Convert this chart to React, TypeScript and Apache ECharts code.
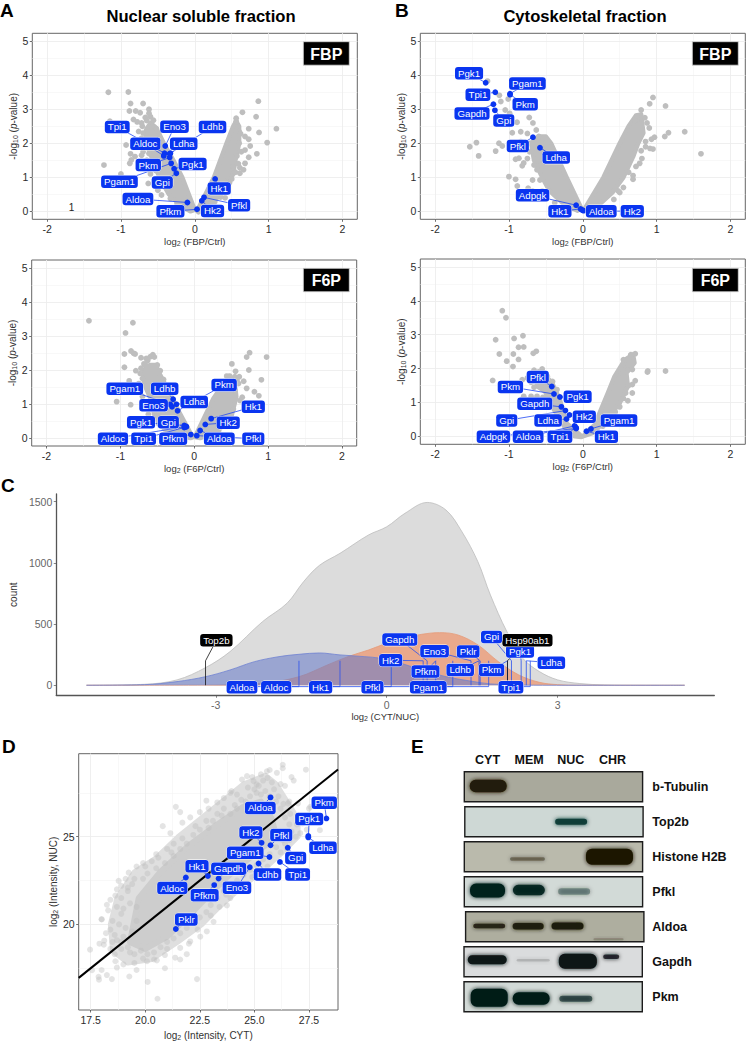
import React, { useEffect, useRef } from "react";
import * as echarts from "echarts";

type P = [number, number];
type Gene = [string, number, number, number, number];

const FONT = '"Liberation Sans"';
const BLUE = "#0a35f0";

// ---- Panel A, FBP ----
const massA1Left: P[] = [[0,0.04],[-0.17,1],[-0.29,1.5],[-0.42,2],[-0.52,2.45],[-0.6,2.6],[-0.66,2.4],[-0.66,2],[-0.55,1.4],[-0.48,1],[-0.35,0.5],[-0.18,0.15],[-0.06,0]];
const massA1Right: P[] = [[0.03,0.01],[0.26,1],[0.43,2],[0.52,2.5],[0.56,2.65],[0.6,2.5],[0.6,2],[0.55,1.5],[0.52,1.1],[0.4,0.6],[0.21,0.2],[0.05,-0.03]];
const outliersA1: P[] = [[-1.17,3.5],[-0.9,3.51],[-0.87,3.17],[-0.7,3.17],[-0.885,2.95],[-0.8,2.95],[-0.74,2.9],[-0.62,3.0],[-0.62,2.88],[-0.6,2.78],[-0.83,2.7],[-0.78,2.63],[-0.67,2.76],[-0.65,2.67],[-1.15,2.65],[-0.93,1.95],[-0.83,1.94],[-0.87,1.69],[-0.81,1.61],[-0.86,1.51],[-0.88,1.41],[-1.23,1.36],[-1.0,1.1],[-0.63,0.82],[-0.45,0.48],[-0.74,2.0],[-0.7,1.75],[-0.72,1.65],[-0.65,1.5],[-0.6,1.1],[-0.55,0.9],[-0.5,0.62],[-0.76,2.35],[-0.71,2.5],[-0.58,2.5],[-0.52,2.42],[-0.72,2.6],[-0.7,2.3],[-0.72,2.15],[-0.68,1.9],[-0.62,1.7],[-0.6,1.35],[-0.53,1.2],[-0.42,0.75],[-0.33,0.38],[-0.24,0.22],[-0.56,2.68],
[0.86,3.24],[0.645,2.91],[0.83,2.78],[0.73,2.43],[1.105,2.43],[0.87,2.32],[0.98,2.02],[0.68,2.2],[0.73,2.12],[0.75,1.92],[0.68,1.8],[0.56,1.72],[0.57,1.63],[0.84,1.69],[0.73,1.59],[0.68,1.41],[0.52,1.32],[0.61,1.28],[0.55,1.15],[0.61,1.12],[0.66,1.22],[0.39,0.92],[0.41,0.4],[0.56,2.64],[0.56,2.74],[0.6,2.35],[0.62,2.28],[0.6,2.0],[0.5,0.95],[0.47,0.85],[0.44,0.72],[0.35,0.42],[0.27,0.28],[0.63,1.75],[0.59,1.4]];
const genesA1: Gene[] = [["Eno3",-0.40,1.92,-0.275,2.49],["Ldhb",-0.33,1.71,0.24,2.48],["Tpi1",-0.41,1.71,-1.05,2.48],["Aldoc",-0.42,1.63,-0.67,1.99],["Ldha",-0.34,1.69,-0.15,1.99],["Pkm",-0.34,1.58,-0.63,1.36],["Pgk1",-0.28,1.25,-0.03,1.39],["Pgam1",-0.32,1.41,-1.02,0.87],["Gpi",-0.25,1.12,-0.44,0.85],["Aldoa",-0.10,0.26,-0.77,0.36],["Pfkm",0.03,0.06,-0.33,0],["Hk2",0.095,0.31,0.24,0.01],["Pfkl",0.125,0.41,0.6,0.18],["Hk1",0.275,0.95,0.33,0.67]];
const strayLabelA1: P[] = [[-1.67,0.11]];

// ---- Panel A, F6P ----
const massA2Left: P[] = [[-0.02,0.02],[-0.2,0.75],[-0.35,1.4],[-0.46,1.85],[-0.52,2.15],[-0.6,2.15],[-0.68,2],[-0.68,1.6],[-0.6,1.2],[-0.53,0.6],[-0.4,0.25],[-0.2,0.08],[-0.05,0]];
const massA2Right: P[] = [[0.01,0.03],[0.26,1.16],[0.4,1.6],[0.55,1.6],[0.57,1.21],[0.49,0.52],[0.26,0.13],[0.08,0]];
const outliersA2: P[] = [[-1.425,3.45],[-0.83,3.39],[-0.93,3.09],[-0.945,2.47],[-0.855,2.56],[-0.82,2.49],[-0.8,2.47],[-0.945,2.08],[-0.79,1.98],[-1.05,1.07],[-0.86,0.98],[-0.72,2.36],[-0.65,2.34],[-0.56,2.45],[-0.54,2.38],[-0.68,2.18],[-0.88,1.68],[-0.78,1.42],[-0.7,1.22],[-0.75,1.6],[-0.6,0.9],[-0.62,0.7],[-0.45,0.55],[-0.595,2.39],[-0.66,2.15],[-0.5,2.15],[-0.46,1.98],[-0.73,1.9],[-0.505,1.75],[-0.415,1.72],[-0.72,2.05],[-0.63,2.28],[-0.7,1.75],[-0.58,1.05],[-0.48,0.42],[-0.34,0.22],
[0.75,2.51],[0.71,2.38],[0.98,2.38],[0.51,2.18],[0.56,1.96],[0.74,2.0],[0.61,1.8],[0.67,1.67],[0.71,1.46],[0.91,1.71],[0.815,1.36],[0.875,1.24],[0.44,1.82],[0.55,1.8],[0.65,1.2],[0.62,1.1],[0.55,1.42],[0.48,1.82],[0.6,1.6],[0.52,1.72],[0.58,1.68],[0.53,0.85],[0.44,0.42],[0.33,0.22]];
const genesA2: Gene[] = [["Pgam1",-0.325,0.99,-0.94,1.45],["Ldhb",-0.285,1.14,-0.40,1.45],["Eno3",-0.30,0.92,-0.55,0.96],["Ldha",-0.24,0.99,0,1.06],["Pkm",-0.225,0.80,0.405,1.56],["Pgk1",-0.135,0.37,-0.72,0.46],["Gpi",-0.105,0.33,-0.35,0.46],["Aldoc",-0.11,0.34,-1.10,-0.02],["Tpi1",-0.135,0.31,-0.685,-0.02],["Pfkm",-0.045,0.10,-0.285,-0.02],["Aldoa",0.08,0.22,0.34,-0.02],["Pfkl",0.035,0.07,0.80,-0.02],["Hk2",0.15,0.40,0.46,0.45],["Hk1",0.23,0.57,0.80,0.92]];

// ---- Panel B, FBP ----
const massB1Left: P[] = [[-0.02,0.09],[-0.22,1],[-0.43,2],[-0.5,2.2],[-0.6,2.2],[-0.7,2],[-0.66,1.5],[-0.55,1],[-0.45,0.6],[-0.25,0.2],[-0.07,0.02]];
const massB1Right: P[] = [[0.03,0.09],[0.28,1],[0.5,2],[0.62,2.5],[0.72,2.82],[0.79,2.85],[0.82,2.3],[0.75,2],[0.68,1.6],[0.55,1],[0.4,0.55],[0.2,0.15],[0.05,0]];
const outliersB1: P[] = [[-1.29,3.83],[-1.13,3.41],[-1.11,3.23],[-1.01,3.3],[-1.05,2.98],[-0.99,2.88],[-0.99,2.69],[-0.89,2.62],[-0.725,2.76],[-0.675,2.6],[-0.63,2.39],[-0.84,2.34],[-0.955,2.31],[-0.75,2.29],[-1.53,1.9],[-1.44,2.02],[-1.41,1.63],[-1.135,2.0],[-1.09,1.92],[-1.18,1.77],[-0.91,1.53],[-0.865,1.56],[-0.82,1.34],[-1.0,1.02],[-0.91,0.94],[-0.887,0.745],[-0.74,0.68],[-0.8,1.42],[-0.66,1.36],[-0.68,0.92],[-0.58,0.92],[-0.63,1.7],[-0.775,1.9],[-0.71,2.0],[-0.595,2.2],[-0.53,2.15],[-0.84,2.05],[-0.68,0.6],[-0.55,0.6],[-0.72,1.75],[-0.75,1.55],[-0.62,1.22],[-0.5,0.42],[-0.38,0.25],
[0.95,3.35],[0.905,3.16],[1.12,3.1],[0.79,2.98],[0.73,2.78],[0.71,2.67],[1.38,2.34],[1.16,2.31],[1.11,2.2],[0.97,2.18],[0.93,2.12],[1.6,1.69],[0.68,0.94],[0.77,1.41],[0.91,1.85],[0.95,1.83],[0.85,1.9],[0.8,1.55],[0.72,1.32],[0.68,1.05],[0.55,0.7],[0.5,0.55],[0.48,0.6],[0.87,2.6],[0.84,2.75],[0.9,2.45],[0.85,2.05],[0.79,1.78],[0.62,1.15],[0.42,0.35]];
const genesB1: Gene[] = [["Pgk1",-1.315,3.78,-1.54,4.06],["Pgam1",-0.985,3.46,-0.75,3.76],["Tpi1",-1.185,3.5,-1.42,3.43],["Pkm",-0.985,3.43,-0.78,3.15],["Gapdh",-1.21,3.15,-1.5,2.88],["Gpi",-1.19,2.97,-1.07,2.67],["Pfkl",-0.675,2.18,-0.88,1.92],["Ldha",-0.58,1.87,-0.36,1.58],["Adpgk",-0.09,0.18,-0.68,0.47],["Hk1",-0.03,0.07,-0.31,0],["Aldoa",-0.01,0.04,0.25,0],["Hk2",0.01,0.02,0.67,0]];

// ---- Panel B, F6P ----
const massB2Left: P[] = [[-0.04,0.05],[-0.22,0.39],[-0.31,1.08],[-0.42,1.6],[-0.52,1.8],[-0.62,1.7],[-0.62,1.48],[-0.51,1.32],[-0.42,0.89],[-0.24,0.25],[-0.11,0],[-0.02,-0.02]];
const massB2Right: P[] = [[0,0],[0.16,0.34],[0.34,1.28],[0.43,1.77],[0.57,2.26],[0.68,2.42],[0.7,2.17],[0.59,1.87],[0.61,1.48],[0.5,0.98],[0.32,0.49],[0.14,0.1]];
const outliersB2: P[] = [[-1.09,3.71],[-1.04,3.5],[-0.81,2.97],[-1.18,2.85],[-0.93,2.89],[-0.87,2.63],[-0.8,2.64],[-1.13,2.43],[-0.94,2.43],[-0.87,2.27],[-1.03,2.22],[-0.945,2.06],[-0.67,2.45],[-0.63,2.51],[-1.22,1.65],[-0.55,1.99],[-0.66,1.95],[-0.82,1.67],[-0.75,1.72],[-0.48,1.77],[-0.41,1.62],[-0.35,1.38],[-0.57,1.48],[-0.8,1.18],[-0.7,1.18],[-0.6,1.9],[-0.7,1.6],[-0.66,1.45],[-0.62,1.18],[-0.54,1.15],
[1.12,1.93],[0.88,1.93],[0.875,1.9],[0.71,2.44],[0.65,2.41],[0.55,2.26],[0.67,1.97],[0.71,1.64],[0.67,1.53],[0.62,1.5],[0.67,1.28],[0.61,1.05],[0.5,0.87],[0.57,2.1],[0.62,2.12],[0.54,1.85],[0.58,1.28],[0.55,1.12],[0.44,0.72],[0.27,0.3]];
const genesB2: Gene[] = [["Pfkl",-0.42,1.47,-0.61,1.75],["Pkm",-0.39,1.25,-0.98,1.46],["Pgk1",-0.31,1.16,-0.07,1.17],["Gapdh",-0.29,0.87,-0.65,0.96],["Gpi",-0.235,0.76,-1.03,0.47],["Ldha",-0.22,0.51,-0.47,0.47],["Hk2",-0.18,0.63,0.02,0.58],["Pgam1",0.11,0.22,0.49,0.47],["Hk1",0.05,0.15,0.32,-0.01],["Tpi1",-0.09,0.25,-0.31,-0.01],["Aldoa",-0.11,0.31,-0.74,-0.01],["Adpgk",-0.09,0.23,-1.21,-0.01]];

// ---- Panel C ----
const densityAll: P[] = [[-5.27,0],[-4.25,8],[-3.68,44],[-3.18,144],[-2.75,275],[-2.18,520],[-1.75,670],[-1.46,846],[-1.18,980],[-0.82,1078],[-0.32,1228],[0,1295],[0.32,1405],[0.71,1494],[1.04,1432],[1.32,1255],[1.6,1010],[1.82,738],[2.11,438],[2.39,220],[2.68,112],[3,44],[3.39,14],[3.82,3],[4.5,0],[5.23,0]];
const densityCyt: P[] = [[-5.27,0],[-3.18,1],[-2.18,16],[-1.54,70],[-1.04,166],[-0.68,234],[-0.32,288],[0,343],[0.32,384],[0.61,416],[0.93,430],[1.25,411],[1.6,330],[1.96,193],[2.32,84],[2.68,24],[3,5],[3.39,0],[5.23,0]];
const densityNuc: P[] = [[-5.27,0],[-4.25,5],[-3.68,30],[-3.18,70],[-2.75,125],[-2.32,193],[-1.89,234],[-1.54,253],[-1.18,264],[-0.82,248],[-0.39,234],[-0.1,220],[0.25,180],[0.61,125],[1.04,70],[1.46,35],[1.82,11],[2.25,3],[2.9,0],[5.23,0]];
const genesC: [string, number, number, number][] = [["Aldoa",-1.54,-2.54,-16],["Aldoc",-0.82,-1.94,-16],["Hk1",0.08,-1.16,-16],["Pfkl",1.16,-0.25,-16],["Pgam1",1.79,0.73,-16],["Tpi1",2.52,2.18,-16],["Gapdh",0.71,0.23,373],["Eno3",1.48,0.84,278],["Pklr",1.64,1.43,275],["Hk2",0.64,0.07,204],["Pfkm",0.86,0.68,112],["Ldhb",1.62,1.29,125],["Pkm",2.12,1.84,125],["Pgk1",2.36,2.34,275],["Ldha",2.45,2.89,185]];
const blackGenesC: [string, number, number, number][] = [["Top2b",-3.18,-2.99,367],["Hsp90ab1",2.12,2.47,367]];
const topGenesC: [string, number, number, number][] = [["Gpi",2.19,1.84,395]];

// ---- Panel D ----
const massOuterD: P[] = [[18.5,18.5],[18.4,20],[18.7,21.5],[19.5,23],[20.5,23.8],[21.5,25],[22.5,26],[23.5,27],[24.5,28],[25.5,28.5],[26,28],[26.5,27],[27,26],[27,25],[26.2,24],[25.3,23],[24.3,22],[23.4,21],[22.6,20],[21.5,19],[20.3,18],[19.2,17.8]];
const massInnerD: P[] = [[19.3,19],[19.7,21.5],[20.7,23],[22,24.5],[23.3,25.7],[24.5,26.7],[25.3,27],[25.8,26],[26,25],[25,24],[24,23],[23,21.8],[22,20.5],[21,19.3],[20,18.6]];
const pointsD: P[] = [[17.47,18.56],[17.86,17.01],[17.88,16.85],[18.24,17.11],[18.47,16.88],[19.27,17.03],[20.11,16.72],[20.56,15.76],[22.37,16.88],[17.56,17.39],[18.2,19.5],[18.5,20.2],[18.0,20.3],[18.9,21.5],[18.7,22.0],[19.1,22.6],[19.2,22.1],[18.7,21.0],[18.4,21.4],[18.3,20.8],[19.6,23.3],[19.9,23.5],[20.3,23.6],[20.6,23.8],[21.0,24.3],[21.3,24.6],[21.2,24.1],[21.7,24.9],[20.8,25.6],[21.15,25.2],[21.7,25.8],[22.06,26.1],[21.4,26.7],[21.6,26.4],[22.8,27.05],[23.3,26.95],[23.9,27.5],[24.66,28.45],[25.1,27.98],[25.57,28.73],[25.7,28.8],[26.3,29.1],[26.3,28.9],[27.36,28.82],[26.7,28.4],[26.8,28.2],[26.4,27.9],[26.03,28.64],[25.4,28.2],[24.96,28.17],[24.43,28.26],[23.95,27.6],[24.9,28.4],[25.3,28.55],[25.6,28.35],[25.0,27.7],[25.3,27.4],[25.9,27.7],[26.1,27.3],[26.6,27.0],[27.0,26.9],[27.5,26.6],[28.0,25.37],[27.8,26.1],[27.1,25.2],[26.9,25.0],[27.2,25.75],[26.64,26.3],[26.33,26.87],[27.56,26.7],[26.55,26.9],[27.0,26.2],[26.95,25.7],[27.4,25.4],[26.6,24.8],[26.4,24.6],[24.05,21.83],[23.74,21.08],[23.13,20.15],[22.82,19.6],[22.52,19.3],[22.06,19.03],[21.6,18.66],[21.6,18.0],[21.37,18.1],[20.53,17.95],[20.08,17.9],[19.5,17.8],[19.0,17.72],[18.63,17.9],[18.7,17.54],[18.1,18.84],[18.12,19.07],[18.4,19.7],[18.0,20.28],[18.24,21.12],[18.63,21.64],[18.78,22.48],[18.9,22.2],[19.24,22.95],[22.0,18.9],[22.4,19.7],[23.0,20.5],[23.4,21.0],[23.9,21.5],[24.2,22.1],[24.7,22.3],[25.2,22.9],[25.6,23.3],[26.2,24.1],[26.5,24.3],[24.9,22.7],[23.7,21.7],[21.0,18.6],[20.4,18.0],[20.9,18.25],[19.9,18.05],[19.3,18.4],[18.9,18.6],[18.6,18.3],[18.4,18.6],[18.7,19.1],[18.5,19.0],[18.8,20.0],[19.0,20.9],[19.2,21.9],[19.5,22.6],[20.0,23.3],[20.5,24.0],[22.3,25.6],[22.8,25.9],[23.3,26.3],[23.6,26.6],[24.1,26.8],[24.4,27.1],[22.5,26.4],[22.9,26.6],[23.6,27.2],[24.2,27.4],[24.7,27.8],[25.8,28.1],[26.2,28.0],[25.2,27.9],[17.9,18.9],[18.0,17.4],[19.6,17.4],[20.9,17.5],[21.9,18.3],
[18.6,19.4],[18.9,19.0],[19.1,19.8],[18.9,20.6],[19.3,21.2],[19.6,21.0],[19.4,22.3],[19.9,22.6],[20.1,22.9],[20.5,23.2],[20.9,23.5],[21.3,23.9],[21.6,24.3],[21.9,24.6],[22.2,25.1],[22.5,25.4],[22.9,25.5],[23.1,25.9],[23.5,26.2],[23.9,26.3],[24.2,26.6],[24.6,27.0],[24.8,27.3],[25.1,27.5],[25.5,27.6],[25.7,27.3],[26.0,27.0],[26.2,26.6],[26.4,26.1],[26.6,25.7],[26.7,25.3],[26.5,25.0],[26.3,24.8],[26.0,24.4],[25.7,24.0],[25.4,23.7],[25.1,23.4],[24.8,23.1],[24.5,22.8],[24.2,22.5],[23.9,22.2],[23.6,21.9],[23.3,21.5],[23.0,21.1],[22.8,20.7],[22.5,20.4],[22.2,20.1],[21.9,19.8],[21.6,19.5],[21.3,19.2],[21.0,19.0],[20.7,18.7],[20.4,18.4],[20.1,18.3],[19.8,18.5],[19.5,18.3],[19.2,18.7],[19.0,19.3],[19.4,19.6],[19.6,20.2]];
const genesD: Gene[] = [["Aldoa",25.74,27.24,25.27,26.64],["Pkm",28.3,26.04,28.2,26.94],["Pgk1",27.47,25.04,27.51,26.01],["Ldha",27.47,24.96,28.14,24.37],["Hk2",25.33,24.65,24.84,25.24],["Pfkl",25.74,24.51,26.23,25.09],["Gpi",26.53,24.37,26.89,23.79],["Pgam1",25.69,23.84,24.58,24.09],["Tpi1",26.17,23.56,26.98,22.85],["Ldhb",25.19,23.47,25.6,22.85],["Eno3",24.79,23.26,24.2,22.09],["Hk1",22.87,22.76,22.37,23.32],["Gapdh",23.36,22.61,23.82,23.17],["Aldoc",21.86,22.67,21.24,22.07],["Pfkm",23.16,22.24,22.72,21.66],["Pklr",21.4,19.74,21.88,20.28]];
const identityLine: P[] = [[16.95,16.95],[28.83,28.83]];

// ---- Panel E ----
const laneNames = ["CYT", "MEM", "NUC", "CHR"];
const blotNames = ["b-Tubulin", "Top2b", "Histone H2B", "Pfkl", "Aldoa", "Gapdh", "Pkm"];
const bandIntensity: number[][] = [
  [1, 0, 0, 0],
  [0, 0, 0.95, 0],
  [0, 0.4, 0, 1],
  [1, 0.9, 0.35, 0],
  [0.85, 0.95, 1, 0.22],
  [0.98, 0.14, 1, 0.8],
  [1, 1, 0.6, 0],
];

// ---- Ticks ----
const ticksVolcanoX = [-2, -1, 0, 1, 2];
const minorVolcanoX = [-2, -1.5, -1, -0.5, 0, 0.5, 1, 1.5, 2];
const ticksVolcanoY = [0, 1, 2, 3, 4, 5];
const minorVolcanoY = [0, 0.5, 1, 1.5, 2, 2.5, 3, 3.5, 4, 4.5, 5];
const ticksCX = [-3, 0, 3];
const ticksCY = [0, 500, 1000, 1500];
const ticksDX = [17.5, 20, 22.5, 25, 27.5];
const minorDX = [17.5, 18.75, 20, 21.25, 22.5, 23.75, 25, 26.25, 27.5];
const ticksDY = [20, 25];
const minorDY = [17.5, 20, 22.5, 25, 27.5];

// ---- Layout, in page pixels (not data) ----
const BAND_SHAPE: Record<string, [number, number, number, number]> = {
  "0-0": [0.7, -0.8, 37, 12.5],
  "1-2": [0.3, 0, 32, 6],
  "2-1": [-1.7, 2.2, 35, 3.5],
  "2-3": [-3, 0, 47, 16],
  "3-0": [0, -1.3, 35, 14],
  "3-1": [-0.3, -1.7, 32, 10.5],
  "3-2": [3.3, -0.2, 32, 6.5],
  "4-0": [1.7, -0.8, 32, 4.5],
  "4-1": [-1, -0.5, 31, 6.5],
  "4-2": [-3.3, -0.8, 32, 7],
  "4-3": [-4, 12.5, 30, 2],
  "5-0": [-0.3, -2, 39, 9],
  "5-1": [4, -1.5, 33, 2.5],
  "5-2": [7, -0.5, 38, 15],
  "5-3": [-1.3, -5, 16, 4.5],
  "6-0": [1.7, 1, 37, 18],
  "6-1": [2, 1.7, 37, 12.5],
  "6-2": [5, 2, 33, 6],
};
const BLOT_STYLE = [
  { bg: "#a9a99c", ink: "#241a08", dx: 0 },
  { bg: "#ced8d5", ink: "#0b3b36", dx: 0.5 },
  { bg: "#babaac", ink: "#1c1406", dx: 0 },
  { bg: "#d2dad7", ink: "#05201d", dx: 0 },
  { bg: "#aeae9f", ink: "#1e1a0c", dx: 1.3 },
  { bg: "#dadcdd", ink: "#0c1213", dx: -0.3 },
  { bg: "#d2dad7", ink: "#051c19", dx: -0.3 },
];

const PANELS = {
  A1: { left: 32.3, top: 33.3, width: 325, height: 186 },
  A2: { left: 31.7, top: 260, width: 325, height: 186 },
  B1: { left: 420.3, top: 33.3, width: 325, height: 186 },
  B2: { left: 420.3, top: 259, width: 325, height: 185.3 },
  C: { left: 54.3, top: 494, width: 660, height: 201.3 },
  D: { left: 78.7, top: 753.7, width: 259.3, height: 261.3 },
  E: { left: 466.7, top: 769.3, width: 166.6, height: 245 },
};

const grids: any[] = [];
const xAxes: any[] = [];
const yAxes: any[] = [];
const series: any[] = [];

const RICH = {
  s: { fontSize: 7, padding: [4, 0, 0, 0], fontFamily: FONT, color: "#333" },
  i: { fontStyle: "italic", fontSize: 10, fontFamily: FONT, color: "#333" },
};

function axis(dim: "x" | "y", o: any) {
  const isX = dim === "x";
  const base = {
    type: "value",
    gridIndex: o.g,
    min: o.min,
    max: o.max,
    position: isX ? "bottom" : "left",
  };
  const arr = isX ? xAxes : yAxes;
  const fmt = o.fmt || ((v: number) => String(v));
  arr.push({
    ...base,
    name: o.name,
    nameLocation: "middle",
    nameGap: o.nameGap,
    nameRotate: isX ? 0 : 90,
    nameTextStyle: { fontFamily: FONT, fontSize: o.nameSize || 10, color: "#333", rich: RICH },
    axisLine: { show: !!o.line, onZero: false, lineStyle: { color: "#555", width: 1.3 } },
    axisTick: { show: true, length: 2.5, customValues: o.ticks, lineStyle: { color: o.tickColor || "#333", width: 0.7 } },
    axisLabel: {
      show: true,
      customValues: o.ticks,
      margin: o.margin ?? 4,
      fontFamily: FONT,
      fontSize: o.labelSize || 10.5,
      color: o.labelColor || "#2b2b2b",
      formatter: fmt,
    },
    splitLine: { show: !!o.grid, lineStyle: { color: "#ececec", width: 0.8 } },
    z: 1,
  });
  const main = arr.length - 1;
  if (o.minor) {
    arr.push({
      ...base,
      axisLine: { show: false, onZero: false },
      axisLabel: { show: false },
      axisTick: { show: false, customValues: o.minor },
      splitLine: { show: true, lineStyle: { color: "#f3f3f3", width: 0.6 } },
      z: 0,
    });
  }
  return main;
}

function massSeries(xi: number, yi: number, pts: P[], fill: string, lw: number) {
  return {
    type: "custom",
    coordinateSystem: "cartesian2d",
    xAxisIndex: xi,
    yAxisIndex: yi,
    silent: true,
    z: 2,
    clip: true,
    data: [pts[0]],
    renderItem: (_p: any, api: any) => ({
      type: "polygon",
      shape: { points: pts.map((d) => api.coord(d)) },
      style: { fill, stroke: fill, lineWidth: lw, lineJoin: "round" },
    }),
  };
}

function labelEl(api: any, name: string, lx: number, ly: number, bg = BLUE) {
  const c = api.coord([lx, ly]);
  return {
    type: "text",
    style: {
      text: name,
      x: c[0],
      y: c[1],
      fill: "#fff",
      font: `9.7px ${FONT}`,
      align: "center",
      verticalAlign: "middle",
      backgroundColor: bg,
      borderColor: "#ffffff",
      borderWidth: 0.5,
      borderRadius: 3,
      padding: [1.5, 3, 1, 3],
    },
  };
}

function geneSeries(xi: number, yi: number, genes: Gene[]) {
  const data = genes.map((g) => [g[1], g[2]]);
  return [
    {
      type: "custom",
      coordinateSystem: "cartesian2d",
      xAxisIndex: xi,
      yAxisIndex: yi,
      silent: true,
      z: 5,
      clip: false,
      data,
      renderItem: (p: any, api: any) => {
        const g = genes[p.dataIndex];
        const a = api.coord([g[1], g[2]]);
        const b = api.coord([g[3], g[4]]);
        return {
          type: "group",
          children: [
            { type: "line", shape: { x1: a[0], y1: a[1], x2: b[0], y2: b[1] }, style: { stroke: "#1f48f2", lineWidth: 0.8 } },
            { type: "circle", shape: { cx: a[0], cy: a[1], r: 2.9 }, style: { fill: "#0a35f0" } },
          ],
        };
      },
    },
    {
      type: "custom",
      coordinateSystem: "cartesian2d",
      xAxisIndex: xi,
      yAxisIndex: yi,
      silent: true,
      z: 6,
      clip: false,
      data,
      renderItem: (p: any, api: any) => {
        const g = genes[p.dataIndex];
        return labelEl(api, g[0], g[3], g[4]);
      },
    },
  ];
}

function volcano(panel: any, xName: string, left: P[], right: P[], outliers: P[], genes: Gene[]) {
  const g = grids.length;
  grids.push({ ...panel, show: true, borderColor: "#666", borderWidth: 1, backgroundColor: "transparent", containLabel: false });
  const xi = axis("x", { g, min: -2.2, max: 2.2, ticks: ticksVolcanoX, minor: minorVolcanoX, grid: true, name: xName, nameGap: 17, nameSize: 9.5 });
  const yi = axis("y", { g, min: -0.235, max: 5.235, ticks: ticksVolcanoY, minor: minorVolcanoY, grid: true, name: "-log{s|10} ({i|p}-value)", nameGap: 13, nameSize: 10 });
  series.push(massSeries(xi, yi, left, "#bebebe", 4.5));
  series.push(massSeries(xi, yi, right, "#bebebe", 4.5));
  series.push({
    type: "scatter",
    xAxisIndex: xi,
    yAxisIndex: yi,
    symbolSize: 5.8,
    silent: true,
    z: 3,
    itemStyle: { color: "#bebebe", opacity: 1 },
    data: outliers,
  });
  series.push(...geneSeries(xi, yi, genes));
  return { xi, yi };
}

const a1 = volcano(PANELS.A1, "log{s|2} (FBP/Ctrl)", massA1Left, massA1Right, outliersA1, genesA1);
volcano(PANELS.A2, "log{s|2} (F6P/Ctrl)", massA2Left, massA2Right, outliersA2, genesA2);
volcano(PANELS.B1, "log{s|2} (FBP/Ctrl)", massB1Left, massB1Right, outliersB1, genesB1);
volcano(PANELS.B2, "log{s|2} (F6P/Ctrl)", massB2Left, massB2Right, outliersB2, genesB2);

// stray "1" printed in the first panel
series.push({
  type: "custom",
  coordinateSystem: "cartesian2d",
  xAxisIndex: a1.xi,
  yAxisIndex: a1.yi,
  silent: true,
  z: 4,
  data: strayLabelA1,
  renderItem: (_p: any, api: any) => {
    const c = api.coord([api.value(0), api.value(1)]);
    return { type: "text", style: { text: "1", x: c[0], y: c[1], fill: "#222", font: `10px ${FONT}`, align: "center", verticalAlign: "middle" } };
  },
});

// Panel C
{
  const g = grids.length;
  grids.push({ ...PANELS.C, show: false, containLabel: false });
  const xi = axis("x", { g, min: -5.8, max: 5.75, ticks: ticksCX, line: true, name: "log{s|2} (CYT/NUC)", nameGap: 16, nameSize: 9.5, labelColor: "#666", tickColor: "#555", margin: 4 });
  const yi = axis("y", { g, min: -82, max: 1563, ticks: ticksCY, line: true, name: "count", nameGap: 23, nameSize: 10, labelColor: "#666", tickColor: "#555", margin: 4 });
  const area = (name: string, data: P[], line: string, fill: string, z: number) => ({
    type: "line",
    name,
    xAxisIndex: xi,
    yAxisIndex: yi,
    data,
    smooth: 0.35,
    showSymbol: false,
    silent: true,
    z,
    lineStyle: { color: line, width: 0.8 },
    areaStyle: { color: fill, opacity: 1, origin: 0 },
  });
  series.push(area("All", densityAll, "#bdbdbd", "#dcdcdc", 2));
  series.push(area("Cyt", densityCyt, "#e69a78", "rgba(238,150,110,0.72)", 3));
  series.push(area("Nuc", densityNuc, "#6f82d2", "rgba(100,120,200,0.55)", 4));

  const connectors = (genes: [string, number, number, number][], color: string) => ({
    type: "custom",
    coordinateSystem: "cartesian2d",
    xAxisIndex: xi,
    yAxisIndex: yi,
    silent: true,
    z: 5,
    clip: false,
    data: genes.map((d) => [d[1], 0]),
    renderItem: (p: any, api: any) => {
      const d = genes[p.dataIndex];
      const base = api.coord([d[1], 0]);
      const top = api.coord([d[1], 200]);
      const lab = api.coord([d[2], d[3]]);
      const low = d[3] < 0;
      const below = api.coord([d[1], -11]);
      const side = api.coord([d[2], -11]);
      const st = { stroke: color, lineWidth: 0.8, fill: "none" };
      return {
        type: "group",
        children: [
          { type: "line", shape: { x1: base[0], y1: base[1], x2: top[0], y2: top[1] }, style: st },
          low
            ? { type: "polyline", shape: { points: [base, below, side] }, style: st }
            : { type: "line", shape: { x1: top[0], y1: top[1], x2: lab[0], y2: lab[1] }, style: st },
        ],
      };
    },
  });
  const labels = (genes: [string, number, number, number][], bg: string, z: number) => ({
    type: "custom",
    coordinateSystem: "cartesian2d",
    xAxisIndex: xi,
    yAxisIndex: yi,
    silent: true,
    z,
    clip: false,
    data: genes.map((d) => [d[2], d[3]]),
    renderItem: (p: any, api: any) => {
      const d = genes[p.dataIndex];
      return labelEl(api, d[0], d[2], d[3], bg);
    },
  });
  series.push(connectors(genesC, "#2a52ee"));
  series.push(connectors(topGenesC, "#2a52ee"));
  series.push(connectors(blackGenesC, "#111"));
  series.push(labels(genesC, BLUE, 6));
  series.push(labels(blackGenesC, "#000", 7));
  series.push(labels(topGenesC, BLUE, 8));
}

// Panel D
{
  const g = grids.length;
  grids.push({ ...PANELS.D, show: true, borderColor: "#666", borderWidth: 1, containLabel: false });
  const xi = axis("x", { g, min: 16.95, max: 28.83, ticks: ticksDX, minor: minorDX, grid: true, name: "log{s|2} (Intensity, CYT)", nameGap: 20, nameSize: 10, fmt: (v: number) => v.toFixed(1) });
  const yi = axis("y", { g, min: 15.12, max: 29.73, ticks: ticksDY, minor: minorDY, grid: true, name: "log{s|2} (Intensity, NUC)", nameGap: 18, nameSize: 10 });
  series.push(massSeries(xi, yi, massOuterD, "#dfdfdf", 5));
  series.push(massSeries(xi, yi, massInnerD, "#cdcdcd", 6));
  series.push({
    type: "scatter",
    xAxisIndex: xi,
    yAxisIndex: yi,
    symbolSize: 6,
    silent: true,
    z: 2,
    itemStyle: { color: "#bebebe", opacity: 0.42 },
    data: pointsD,
  });
  series.push({
    type: "line",
    xAxisIndex: xi,
    yAxisIndex: yi,
    data: identityLine,
    showSymbol: false,
    silent: true,
    z: 4,
    lineStyle: { color: "#000", width: 2 },
  });
  series.push(...geneSeries(xi, yi, genesD));
}

// Panel E
{
  const g = grids.length;
  grids.push({ ...PANELS.E, show: false, containLabel: false });
  const labelStyle = { fontFamily: FONT, fontWeight: "bold", fontSize: 12.5, color: "#111" };
  xAxes.push({ type: "category", gridIndex: g, data: laneNames, position: "top", axisLine: { show: false }, axisTick: { show: false }, splitLine: { show: false }, axisLabel: { ...labelStyle, margin: 3 } });
  yAxes.push({ type: "category", gridIndex: g, data: blotNames, inverse: true, position: "right", axisLine: { show: false }, axisTick: { show: false }, splitLine: { show: false }, axisLabel: { ...labelStyle, margin: 19, align: "left" } });
  const xi = xAxes.length - 1;
  const yi = yAxes.length - 1;
  series.push({
    type: "custom",
    coordinateSystem: "cartesian2d",
    xAxisIndex: xi,
    yAxisIndex: yi,
    silent: true,
    z: 2,
    clip: false,
    data: blotNames.map((_, r) => [0, r]),
    renderItem: (p: any, api: any) => {
      const r = p.dataIndex;
      const c = api.coord([0, r]);
      const st = BLOT_STYLE[r];
      return {
        type: "rect",
        shape: { x: PANELS.E.left - 2.4 + st.dx, y: c[1] - 15, width: 178.3, height: 30 },
        style: { fill: st.bg, stroke: "#1c1c1c", lineWidth: 1.4 },
      };
    },
  });
  const cells: number[][] = [];
  bandIntensity.forEach((row, r) => row.forEach((v, l) => { if (v > 0) cells.push([l, r, v]); }));
  series.push({
    type: "custom",
    coordinateSystem: "cartesian2d",
    xAxisIndex: xi,
    yAxisIndex: yi,
    silent: true,
    z: 3,
    clip: false,
    data: cells,
    renderItem: (p: any, api: any) => {
      const [l, r, v] = cells[p.dataIndex];
      const [dx, dy, w, h] = BAND_SHAPE[`${r}-${l}`];
      const c = api.coord([l, r]);
      const ink = BLOT_STYLE[r].ink;
      return {
        type: "rect",
        shape: { x: c[0] + dx - w / 2, y: c[1] + dy - h / 2, width: w, height: h, r: Math.min(h / 2, 6) },
        style: { fill: ink, opacity: v, shadowBlur: 4, shadowColor: ink },
      };
    },
  });
}

function letter(text: string, x: number, y: number) {
  return { type: "text", x, y, z: 100, style: { text, font: `bold 19px ${FONT}`, fill: "#000", verticalAlign: "middle" } };
}
function heading(text: string, x: number, y: number) {
  return { type: "text", x, y, z: 100, style: { text, font: `bold 16.6px ${FONT}`, fill: "#000", align: "center", verticalAlign: "middle" } };
}
function badge(text: string, x: number, y: number) {
  return {
    type: "group",
    x,
    y,
    children: [
      { type: "rect", z: 100, shape: { x: 0, y: 0, width: 46, height: 23.5 }, style: { fill: "#000", stroke: "#dcdcdc", lineWidth: 0.8 } },
      { type: "text", z: 101, x: 23, y: 12.5, style: { text, font: `bold 16px ${FONT}`, fill: "#fff", align: "center", verticalAlign: "middle" } },
    ],
  };
}

const graphicElements = [
  letter("A", 0, 10.5),
  letter("B", 395, 10.5),
  letter("C", 1, 485),
  letter("D", 2, 746),
  letter("E", 411, 746),
  heading("Nuclear soluble fraction", 201, 16),
  heading("Cytoskeletal fraction", 585, 16),
  badge("FBP", 303.3, 41.7),
  badge("FBP", 692.3, 41.7),
  badge("F6P", 303.3, 268.3),
  badge("F6P", 692.3, 268.3),
];

export default function App() {
  const ref = useRef<HTMLDivElement>(null);
  useEffect(() => {
    const chart = echarts.init(ref.current!, undefined, { renderer: "svg" });
    chart.setOption({
      animation: false,
      backgroundColor: "#fff",
      textStyle: { fontFamily: FONT },
      grid: grids,
      xAxis: xAxes,
      yAxis: yAxes,
      series,
      graphic: { elements: graphicElements },
    });
    return () => chart.dispose();
  }, []);
  return <div ref={ref} style={{ position: "absolute", left: 0, top: 0, width: 748, height: 1042 }} />;
}
